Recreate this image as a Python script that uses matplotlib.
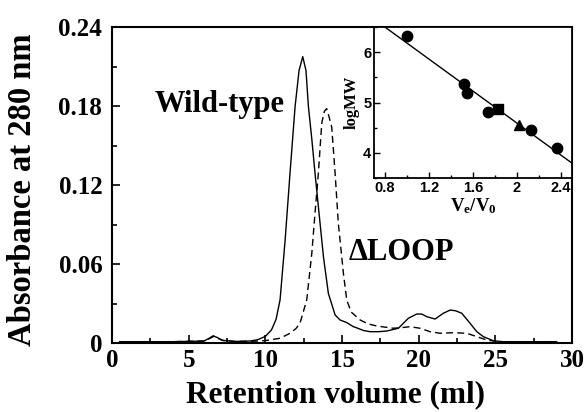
import matplotlib
matplotlib.use("Agg")
import matplotlib.pyplot as plt
from matplotlib.ticker import MultipleLocator
import numpy as np

plt.rcParams['mathtext.fontset'] = 'custom'
plt.rcParams['mathtext.rm'] = 'Liberation Serif:bold'
plt.rcParams['mathtext.bf'] = 'Liberation Serif:bold'
plt.rcParams['mathtext.it'] = 'Liberation Serif:bold'

# ---- data: wild-type (solid) ----
wt_vol = [0.5, 2, 4, 6.0, 6.4, 6.6, 6.9, 7.2, 8, 9, 9.5, 10.0, 10.4, 10.7, 10.96, 11.29,
          11.61, 11.94, 12.2, 12.44, 12.65, 12.81, 13.03, 13.24, 13.46, 13.79, 14.11,
          14.55, 14.87, 15.31, 15.74, 15.96, 16.4, 16.83, 17.4, 17.92, 18.68, 19.33,
          19.87, 20.2, 20.53, 21.07, 21.61, 22.05, 22.4, 22.81, 23.35, 23.79, 24.22,
          24.87, 25.5, 27, 29]
wt_abs = [0.001, 0.001, 0.001, 0.0015, 0.004, 0.0055, 0.004, 0.002, 0.0012, 0.0015,
          0.0025, 0.005, 0.0099, 0.018, 0.0327, 0.078, 0.129, 0.1795, 0.207, 0.2175,
          0.207, 0.1795, 0.155, 0.129, 0.1035, 0.0655, 0.0377, 0.0213, 0.0175, 0.0155,
          0.0124, 0.0115, 0.0095, 0.0086, 0.0086, 0.0091, 0.0112, 0.0188, 0.022, 0.022,
          0.020, 0.0182, 0.0226, 0.025, 0.0245, 0.0226, 0.015, 0.0086, 0.0048, 0.0017,
          0.001, 0.001, 0.001]

# ---- data: delta-LOOP (dashed) ----
dl_vol = [0.5, 4, 6.0, 6.4, 6.6, 6.9, 7.2, 8, 9, 10, 10.96, 11.61, 12.0, 12.26, 12.70,
          13.03, 13.24, 13.46, 13.68, 13.85, 14.0, 14.15, 14.33, 14.55, 14.76, 15.09,
          15.31, 15.6, 16.18, 16.7, 17.27, 18.35, 19.0, 19.44, 20.09, 20.74, 21.40,
          22.27, 23.14, 23.79, 24.44, 25.2, 27, 29]
dl_abs = [0.001, 0.001, 0.0015, 0.0035, 0.005, 0.0035, 0.002, 0.0012, 0.0012, 0.0018,
          0.0036, 0.0074, 0.011, 0.015, 0.0327, 0.068, 0.0987, 0.129, 0.167, 0.176,
          0.178, 0.172, 0.164, 0.129, 0.091, 0.053, 0.0327, 0.0235, 0.0175, 0.0145,
          0.0129, 0.0112, 0.0118, 0.0124, 0.0112, 0.0086, 0.0074, 0.0078, 0.0074,
          0.0048, 0.0023, 0.001, 0.001, 0.001]

# ---- inset calibration data ----
cal_ratio = [1.0, 1.52, 1.545, 1.74, 2.125, 2.36]
cal_logmw = [6.32, 5.37, 5.19, 4.82, 4.45, 4.10]
sq_ratio, sq_logmw = [1.83], [4.87]
tri_ratio, tri_logmw = [2.015], [4.55]
fit_slope, fit_intercept = -1.59, 7.77

x_ticks = [0, 5, 10, 15, 20, 25, 30]
y_ticks = [0, 0.06, 0.12, 0.18, 0.24]
y_ticklabels = ['0', '0.06', '0.12', '0.18', '0.24']
ins_xticks = [0.8, 1.2, 1.6, 2.0, 2.4]
ins_xticklabels = ['0.8', '1.2', '1.6', '2', '2.4']
ins_yticks = [4, 5, 6]

serif = 'Liberation Serif'
sans = 'Liberation Sans'

fig = plt.figure(figsize=(5.86, 4.12), dpi=100)
ax = fig.add_axes([112/586, 1-343/412, (572-112)/586, (343-27)/412])

ax.plot(wt_vol, wt_abs, color='black', lw=1.0)
ax.plot(dl_vol, dl_abs, color='black', lw=1.0, dashes=(5, 3))

ax.set_xlim(0, 30)
ax.set_ylim(0, 0.24)
ax.set_xticks(x_ticks)
ax.set_xticklabels([str(v) for v in x_ticks])
ax.set_yticks(y_ticks)
ax.set_yticklabels(y_ticklabels)
ax.xaxis.set_minor_locator(MultipleLocator(2.5))
ax.yaxis.set_minor_locator(MultipleLocator(0.03))
ax.tick_params(which='both', direction='in', top=False, right=False, width=1.2)
ax.tick_params(which='major', length=6)
ax.tick_params(which='minor', length=3.5)
ax.tick_params(axis='y', pad=7)
ax.tick_params(axis='x', pad=4)
for lab in ax.get_xticklabels() + ax.get_yticklabels():
    lab.set_fontfamily(serif)
    lab.set_fontweight('bold')
    lab.set_fontsize(18)
for sp in ax.spines.values():
    sp.set_linewidth(1.5)

ax.set_xlabel('Retention volume (ml)', fontfamily=serif, fontweight='bold', fontsize=22.5)
ax.xaxis.label.set_va('baseline')
ax.xaxis.set_label_coords((335.5-112)/460, -(402-343)/316)
ax.set_ylabel('Absorbance at 280 nm', fontfamily=serif, fontweight='bold', fontsize=23.5)
ax.yaxis.set_label_coords(-(112-38)/460, (343-189.5)/316)

ax.text(7.05, 0.181, 'Wild-type', fontfamily=serif, fontweight='bold', fontsize=22,
        ha='center', va='center')
ax.text(18.9, 0.069, '\u0394LOOP', fontfamily=serif, fontweight='bold', fontsize=22,
        ha='center', va='center')

# ---- inset ----
ins = fig.add_axes([374/586, 1-178/412, (572-374)/586, (178-27)/412])
xs = np.array([0.7, 2.5])
ins.plot(xs, fit_intercept + fit_slope*xs, color='black', lw=1.0)
ins.plot(cal_ratio, cal_logmw, 'o', color='black', ms=7.5)
ins.plot(sq_ratio, sq_logmw, 's', color='black', ms=7)
ins.plot(tri_ratio, tri_logmw, '^', color='black', ms=7)
ins.set_xlim(0.7, 2.5)
ins.set_ylim(3.5, 6.5)
ins.set_xticks(ins_xticks)
ins.set_xticklabels(ins_xticklabels)
ins.set_yticks(ins_yticks)
ins.xaxis.set_minor_locator(MultipleLocator(0.2))
ins.yaxis.set_minor_locator(MultipleLocator(0.5))
ins.tick_params(which='both', direction='in', width=1.0, pad=2)
ins.tick_params(which='major', length=4)
ins.tick_params(which='minor', length=2.5)
for lab in ins.get_xticklabels() + ins.get_yticklabels():
    lab.set_fontfamily(sans)
    lab.set_fontweight('bold')
    lab.set_fontsize(10.5)
for sp in ins.spines.values():
    sp.set_linewidth(1.3)
ins.set_xlabel(r'$\mathrm{V_e/V_0}$', fontsize=13.5, labelpad=1)
ins.set_ylabel('logMW', fontfamily=serif, fontweight='bold', fontsize=12, labelpad=2)

fig.savefig('out.png', dpi=100)
